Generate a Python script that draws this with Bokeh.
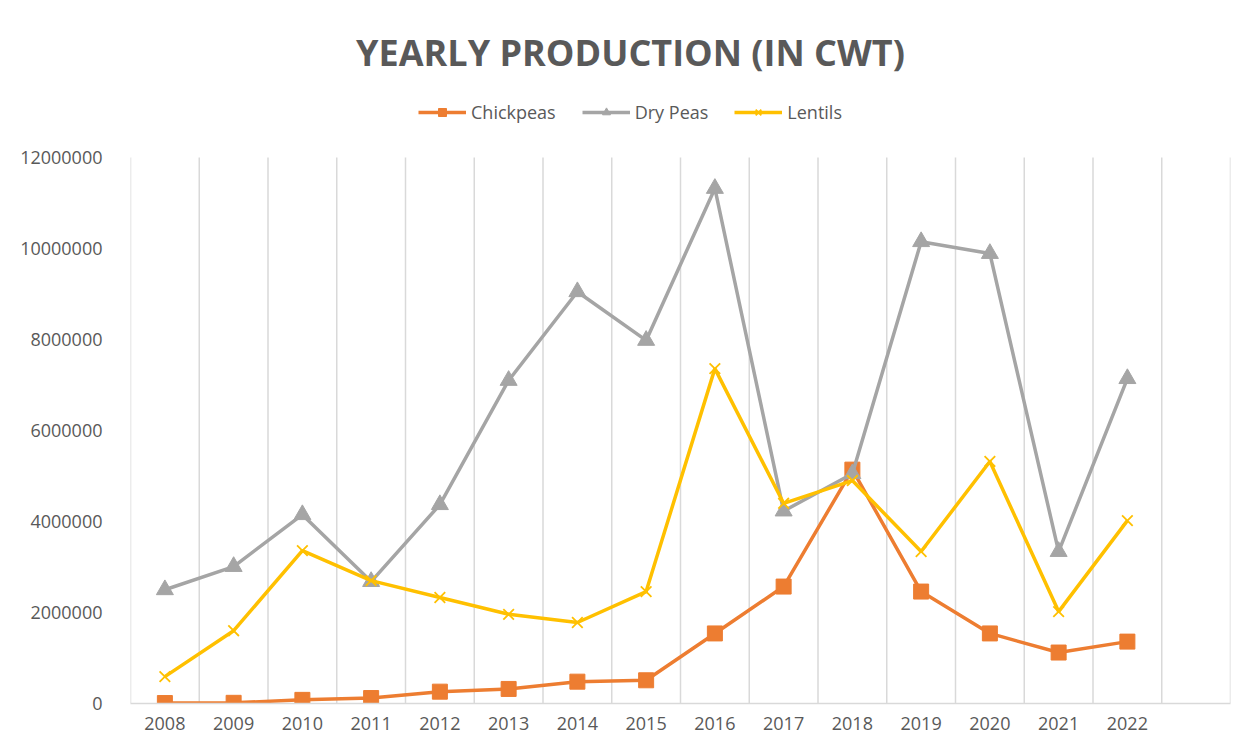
from bokeh.plotting import figure
from bokeh.models import (Range1d, FixedTicker, NumeralTickFormatter, Legend, LegendItem, Label)
from bokeh.embed import file_html
from bokeh.resources import INLINE

years = ["2008", "2009", "2010", "2011", "2012", "2013", "2014", "2015",
         "2016", "2017", "2018", "2019", "2020", "2021", "2022"]
chickpeas = [10000, 15000, 80000, 120000, 260000, 320000, 480000, 510000,
             1540000, 2570000, 5140000, 2460000, 1540000, 1120000, 1360000]
dry_peas = [2500000, 3010000, 4150000, 2680000, 4370000, 7100000, 9050000, 7980000,
            11320000, 4230000, 5050000, 10150000, 9890000, 3340000, 7140000]
lentils = [590000, 1600000, 3360000, 2700000, 2330000, 1960000, 1780000, 2460000,
           7360000, 4400000, 4900000, 3340000, 5320000, 2020000, 4020000]
y_ticks = [0, 2000000, 4000000, 6000000, 8000000, 10000000, 12000000]
n_slots = 16  # 15 years + one empty slot at the right
title_text = "YEARLY PRODUCTION (IN CWT)"

FONT = "Open Sans"
TXT = "#595959"
ORANGE = "#ED7D31"
GRAY = "#A5A5A5"
YELLOW = "#FFC000"
GRID = "#D9D9D9"

x = list(range(len(years)))
y_max = y_ticks[-1]
# plot area (0..12M) is 546px tall; the frame extends 149px above it for title and legend
FRAME_H = 695
PLOT_H = 546

p = figure(frame_width=1100, frame_height=FRAME_H, output_backend="svg", toolbar_location=None,
           x_range=Range1d(-0.5, n_slots - 0.5),
           y_range=Range1d(0, y_max * FRAME_H / PLOT_H),
           min_border_left=130, min_border_right=16, min_border_bottom=38,
           min_border_top=8)
p.outline_line_color = None
p.background_fill_color = "white"
p.border_fill_color = "white"

# category separators (vertical gridlines) from 0 up to the top of the value axis
boundaries = [i - 0.5 for i in range(n_slots + 1)]
p.segment(x0=boundaries, y0=[0] * len(boundaries), x1=boundaries,
          y1=[y_max] * len(boundaries), line_color=GRID, line_width=1.5)

p.add_layout(Label(x=500, y=651, x_units="screen", y_units="screen", text=title_text,
                   text_align="center", text_baseline="middle", text_font=FONT,
                   text_font_size="36px", text_font_style="bold", text_color=TXT))

# axes
p.xaxis.ticker = FixedTicker(ticks=x)
p.xaxis.major_label_overrides = {i: y for i, y in enumerate(years)}
p.xaxis.axis_line_color = GRID
p.xaxis.axis_line_width = 1.5
p.xaxis.major_tick_line_color = None
p.xaxis.minor_tick_line_color = None
p.xaxis.major_label_text_font = FONT
p.xaxis.major_label_text_font_size = "18px"
p.xaxis.major_label_text_color = TXT
p.xaxis.major_label_standoff = 7

p.yaxis.ticker = FixedTicker(ticks=y_ticks)
p.yaxis.formatter = NumeralTickFormatter(format="0")
p.yaxis.axis_line_color = None
p.yaxis.major_tick_line_color = None
p.yaxis.minor_tick_line_color = None
p.yaxis.major_label_text_font = FONT
p.yaxis.major_label_text_font_size = "18px"
p.yaxis.major_label_text_color = TXT
p.yaxis.major_label_standoff = 22

p.xgrid.visible = False
p.ygrid.visible = False

# series
l1 = p.line(x, chickpeas, line_color=ORANGE, line_width=3.5)
m1 = p.scatter(x, chickpeas, marker="square", size=15, fill_color=ORANGE, line_color=ORANGE)
l2 = p.line(x, dry_peas, line_color=GRAY, line_width=3.5)
m2 = p.scatter(x, dry_peas, marker="triangle", size=17, fill_color=GRAY, line_color=GRAY)
l3 = p.line(x, lentils, line_color=YELLOW, line_width=3.5)
m3 = p.scatter(x, lentils, marker="x", size=15, line_color=YELLOW, line_width=1.8)

legend = Legend(items=[LegendItem(label="Chickpeas", renderers=[l1, m1]),
                       LegendItem(label="Dry Peas", renderers=[l2, m2]),
                       LegendItem(label="Lentils", renderers=[l3, m3])],
                orientation="horizontal", location=(288, 579),
                label_text_font=FONT, label_text_font_size="18px",
                label_text_color=TXT, glyph_width=48, glyph_height=20,
                label_standoff=5, spacing=26, border_line_color=None,
                background_fill_alpha=0, padding=4, margin=0)
p.add_layout(legend, "center")

open("out.html", "w").write(file_html(p, INLINE))
